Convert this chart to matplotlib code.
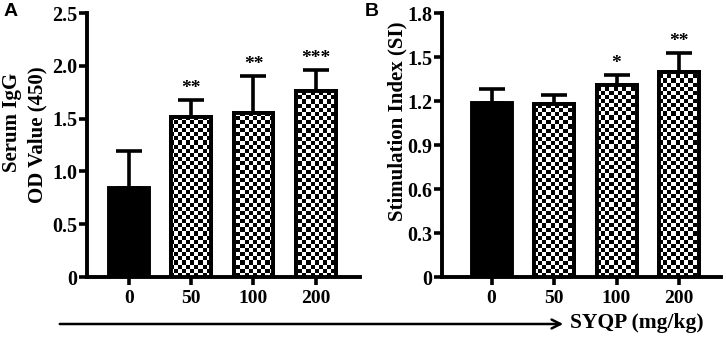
import numpy as np
import matplotlib
matplotlib.use('Agg')
import matplotlib.pyplot as plt

# Dados
doses = ['0', '50', '100', '200']
igg_media = [0.84, 1.52, 1.55, 1.76]
igg_erro = [0.35, 0.16, 0.35, 0.20]
igg_sig = ['', '**', '**', '***']

si_media = [1.19, 1.18, 1.31, 1.40]
si_erro = [0.09, 0.06, 0.07, 0.13]
si_sig = ['', '', '*', '**']

plt.rcParams['font.family'] = ['Liberation Serif', 'DejaVu Serif']
plt.rcParams['font.weight'] = 'bold'

fig = plt.figure(figsize=(7.26, 3.37), dpi=100)
axA = fig.add_axes([0.1198, 0.178, 0.376, 0.783])
axB = fig.add_axes([0.609, 0.178, 0.384, 0.783])


def desenha(ax, medias, erros, sig, ymax, yticks, ytlabels, xlim):
    x = np.arange(len(medias))
    ax.set_xlim(*xlim)
    ax.set_ylim(0, ymax)
    barras = ax.bar(x, medias, width=0.64, facecolor='none', edgecolor='black',
                    linewidth=2.8, zorder=3)
    barras[0].set_facecolor('black')
    ax.errorbar(x, medias, yerr=[np.zeros(len(erros)), erros], fmt='none',
                ecolor='black', elinewidth=2.6, capsize=9.5, capthick=2.6, zorder=2)

    # tabuleiro de xadrez com quadrados de ~4 px
    bbox = ax.get_window_extent()
    nx = int(bbox.width / 4.1)
    ny = int(bbox.height / 4.1)
    xadrez = (np.add.outer(np.arange(ny), np.arange(nx)) % 2).astype(float)
    for b in barras[1:]:
        b.set_facecolor('white')
        im = ax.imshow(xadrez, cmap='gray', extent=[xlim[0], xlim[1], 0, ymax],
                       aspect='auto', interpolation='nearest', origin='lower',
                       zorder=3.5)
        im.set_clip_path(b)
        ax.bar(b.get_x() + b.get_width() / 2, b.get_height(), width=0.64,
               facecolor='none', edgecolor='black', linewidth=2.8, zorder=4)

    for xi, m, e, s in zip(x, medias, erros, sig):
        if s:
            ax.text(xi, m + e + ymax * 0.012, s, ha='center', va='bottom',
                    fontsize=14, fontweight='bold')

    ax.set_xticks(x)
    ax.set_xticklabels(doses)
    ax.set_yticks(yticks)
    ax.set_yticklabels(ytlabels)
    ax.tick_params(width=2.6, length=6)
    ax.tick_params(axis='x', labelsize=14, pad=3)
    ax.tick_params(axis='y', labelsize=14.5, pad=1)
    for lado in ['top', 'right']:
        ax.spines[lado].set_visible(False)
    for lado in ['left', 'bottom']:
        ax.spines[lado].set_linewidth(2.8)


desenha(axA, igg_media, igg_erro, igg_sig, 2.5,
        [0, 0.5, 1.0, 1.5, 2.0, 2.5], ['0', '0.5', '1.0', '1.5', '2.0', '2.5'],
        (-0.674, 3.71))
desenha(axB, si_media, si_erro, si_sig, 1.8,
        [0, 0.3, 0.6, 0.9, 1.2, 1.5, 1.8], ['0', '0.3', '0.6', '0.9', '1.2', '1.5', '1.8'],
        (-0.79, 3.67))

# rótulos do eixo y
fig.text(12.5 / 726, 1 - 122 / 337, 'Serum IgG', rotation=90, fontsize=15,
         fontweight='bold', ha='center', va='center')
fig.text(37.5 / 726, 1 - 135 / 337, 'OD Value (450)', rotation=90, fontsize=15,
         fontweight='bold', ha='center', va='center')
fig.text(397 / 726, 1 - 121 / 337, 'Stimulation Index (SI)', rotation=90, fontsize=15,
         fontweight='bold', ha='center', va='center')

fig.text(0.005, 0.99, 'A', family='Liberation Sans', fontsize=14, fontweight='bold',
         va='top')
fig.text(0.502, 0.99, 'B', family='Liberation Sans', fontsize=14, fontweight='bold',
         va='top')

# seta da dose
fig.patches.append(matplotlib.patches.FancyArrowPatch(
    (57 / 726, 13 / 337), (566 / 726, 13 / 337), transform=fig.transFigure,
    arrowstyle='->', mutation_scale=16, linewidth=1.8, color='black'))
fig.text(570 / 726, 14 / 337, 'SYQP (mg/kg)', fontsize=15.5, fontweight='bold',
         va='center', ha='left')

fig.savefig('out.png', dpi=100)
